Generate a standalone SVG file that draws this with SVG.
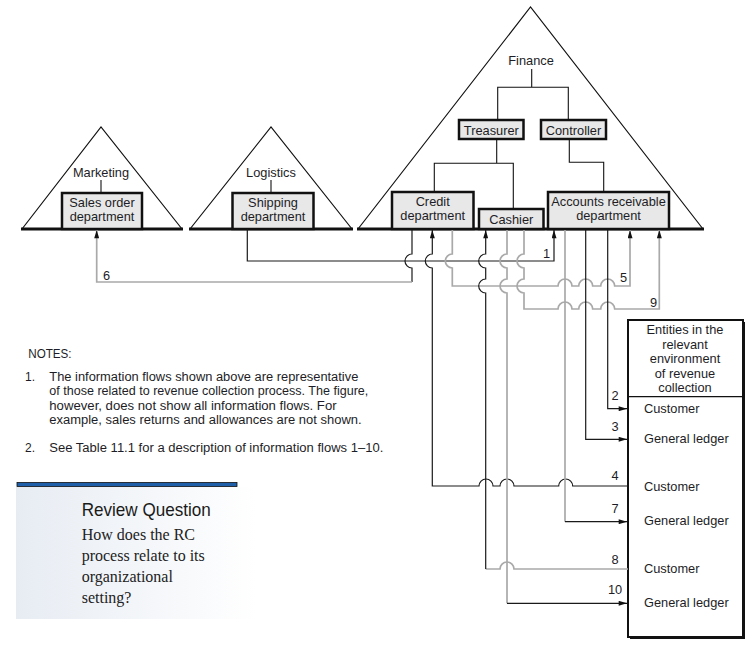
<svg xmlns="http://www.w3.org/2000/svg" width="755" height="648" viewBox="0 0 755 648">
<defs>
<style>
text{font-family:"Liberation Sans",Arial,sans-serif;font-size:12.8px;fill:#1d1d26}
.c{text-anchor:middle}
.box{fill:#e8e8e8;stroke:#111;stroke-width:2.5}
.tri{fill:none;stroke:#111;stroke-width:1.2}
.base{stroke:#111;stroke-width:3.2}
.org{fill:none;stroke:#111;stroke-width:1.1}
.k{fill:none;stroke:#1a1a1a;stroke-width:1.2}
.g{fill:none;stroke:#a9a9a9;stroke-width:1.7}
.note{font-size:12px}
.rq{font-size:18.5px;fill:#1a1a1a}
.serif{font-family:"Liberation Serif","Times New Roman",serif;font-size:16px;fill:#222}
</style>
<marker id="ar" viewBox="0 0 10 6" refX="10" refY="3" markerWidth="10" markerHeight="5" markerUnits="userSpaceOnUse" orient="auto">
<path d="M0,0 L10,3 L0,6 z" fill="#111"/>
</marker>
<linearGradient id="rqg" x1="0" y1="0" x2="1" y2="0">
<stop offset="0" stop-color="#e7ecf3"/>
<stop offset="1" stop-color="#ffffff"/>
</linearGradient>
</defs>
<rect width="755" height="648" fill="#fff"/>

<g id="marketing">
<polyline class="tri" points="22,229 101,127 182,229"/>
<line class="base" x1="21" y1="229" x2="183" y2="229"/>
<text class="c" x="101" y="177">Marketing</text>
<line class="org" x1="101" y1="180" x2="101" y2="193"/>
<rect class="box" x="62" y="193" width="80" height="36"/>
<text class="c" x="102" y="207">Sales order</text>
<text class="c" x="102" y="221">department</text>
</g>

<g id="logistics">
<polyline class="tri" points="190,229 271,127 352,229"/>
<line class="base" x1="189" y1="229" x2="353" y2="229"/>
<text class="c" x="271" y="177">Logistics</text>
<line class="org" x1="271" y1="180" x2="271" y2="193"/>
<rect class="box" x="232.5" y="193" width="81" height="36"/>
<text class="c" x="273" y="207">Shipping</text>
<text class="c" x="273" y="221">department</text>
</g>

<g id="finance">
<polyline class="tri" points="358,229 530.5,7 703,229"/>
<line class="base" x1="357" y1="229" x2="704" y2="229"/>
<text class="c" x="531" y="65">Finance</text>
<path class="org" d="M531.7,69 V87.3 M497.7,120 V87.3 H568.3 V120 M496.7,139 V163.3 M434.3,192 V163.3 H513.3 V209 M569.3,139 V162.3 H603.7 V192"/>
</g>
<g id="treasurer">
<rect class="box" x="459" y="120" width="64.5" height="19"/>
<text class="c" x="491.3" y="134.5">Treasurer</text>
</g>
<g id="controller">
<rect class="box" x="541" y="120" width="65" height="19"/>
<text class="c" x="573.5" y="134.5">Controller</text>
</g>
<g id="credit">
<rect class="box" x="392" y="192" width="81.5" height="37"/>
<text class="c" x="432.7" y="206">Credit</text>
<text class="c" x="432.7" y="219.5">department</text>
</g>
<g id="cashier">
<rect class="box" x="479" y="209" width="64.5" height="20"/>
<text class="c" x="511.3" y="224">Cashier</text>
</g>
<g id="ar-dept">
<rect class="box" x="548" y="192" width="121" height="37"/>
<text class="c" x="608.5" y="206">Accounts receivable</text>
<text class="c" x="608.5" y="219.5">department</text>
</g>

<g id="entities">
<rect x="630" y="322" width="115" height="317" fill="#111"/>
<rect x="628" y="320" width="115" height="317" fill="#fff" stroke="#111" stroke-width="2"/>
<line x1="628" y1="396.7" x2="743" y2="396.7" stroke="#111" stroke-width="1.3"/>
<text class="c" x="685" y="334">Entities in the</text>
<text class="c" x="685" y="348.5">relevant</text>
<text class="c" x="685" y="363">environment</text>
<text class="c" x="685" y="377.5">of revenue</text>
<text class="c" x="685" y="392">collection</text>
<text x="644" y="413">Customer</text>
<text x="644" y="443">General ledger</text>
<text x="644" y="490.5">Customer</text>
<text x="644" y="525">General ledger</text>
<text x="644" y="573">Customer</text>
<text x="644" y="607">General ledger</text>
</g>

<g id="connectors">
<path class="k" d="M247.3,229 V261 H554 V230" marker-end="url(#ar)"/>
<path class="k" d="M412,230 V254 A7,7 0 0 0 412,268 V282"/>
<path class="g" d="M412,282 H96.7 V230" marker-end="url(#ar)"/>
<path class="k" d="M628,486 H572.7 A7,7 0 0 0 558.7,486 H514 A7,7 0 0 0 500,486 H493 A7,7 0 0 0 479,486 H432.3 V268 A7,7 0 0 1 432.3,254 V230" marker-end="url(#ar)"/>
<path class="g" d="M452.3,230 V254 A7,7 0 0 0 452.3,268 V286 H558 A7,7 0 0 1 572,286 H578.7 A7,7 0 0 1 592.7,286 H600.7 A7,7 0 0 1 614.7,286 H630 V230" marker-end="url(#ar)"/>
<path class="g" d="M628,569 H514 A7,7 0 0 0 500,569 H485.7"/>
<path class="k" d="M485.7,569 V293 A7,7 0 0 1 485.7,279 V268 A7,7 0 0 1 485.7,254 V230" marker-end="url(#ar)"/>
<path class="g" d="M507,230 V254 A7,7 0 0 0 507,268 V279 A7,7 0 0 0 507,293 V603.3"/>
<path class="k" d="M507,603.3 H627" marker-end="url(#ar)"/>
<path class="g" d="M524,230 V254 A7,7 0 0 0 524,268 V279 A7,7 0 0 0 524,293 V309 H558 A7,7 0 0 1 572,309 H578.7 A7,7 0 0 1 592.7,309 H600.7 A7,7 0 0 1 614.7,309 H659.3 V230" marker-end="url(#ar)"/>
<path class="g" d="M565,230 V521.7"/>
<path class="k" d="M565,521.7 H627" marker-end="url(#ar)"/>
<path class="k" d="M585.7,230 V439.3 H627" marker-end="url(#ar)"/>
<path class="k" d="M607.7,230 V408.7 H627" marker-end="url(#ar)"/>
<text x="543" y="257.5">1</text>
<text x="103" y="280">6</text>
<text x="620" y="282">5</text>
<text x="650" y="307">9</text>
<text x="611.5" y="400">2</text>
<text x="611.5" y="431">3</text>
<text x="611.5" y="480">4</text>
<text x="611.5" y="513">7</text>
<text x="611.5" y="563.5">8</text>
<text x="608" y="594">10</text>
</g>

<g id="notes">
<text class="note" x="28.3" y="357.5" textLength="43.3" lengthAdjust="spacingAndGlyphs">NOTES:</text>
<text class="note" x="25" y="380.5">1.</text>
<text class="note" x="49.3" y="380.5" textLength="309" lengthAdjust="spacingAndGlyphs">The information flows shown above are representative</text>
<text class="note" x="49.3" y="395" textLength="319" lengthAdjust="spacingAndGlyphs">of those related to revenue collection process. The figure,</text>
<text class="note" x="49.3" y="409.5" textLength="287.3" lengthAdjust="spacingAndGlyphs">however, does not show all information flows.  For</text>
<text class="note" x="49.3" y="424" textLength="312.3" lengthAdjust="spacingAndGlyphs">example, sales returns and allowances are not shown.</text>
<text class="note" x="25" y="451.5">2.</text>
<text class="note" x="49.3" y="451.5" textLength="334" lengthAdjust="spacingAndGlyphs">See Table 11.1 for a description of information flows 1–10.</text>
</g>

<g id="review">
<rect x="16" y="487" width="240" height="132" fill="url(#rqg)"/>
<rect x="17" y="482.5" width="220" height="4" fill="#1f5ea8" stroke="#111" stroke-width="0.8"/>
<text class="rq" x="81.7" y="516" textLength="129" lengthAdjust="spacingAndGlyphs">Review Question</text>
<text class="serif" x="81.7" y="539.5">How does the RC</text>
<text class="serif" x="81.7" y="560.5">process relate to its</text>
<text class="serif" x="81.7" y="581.5">organizational</text>
<text class="serif" x="81.7" y="602.5">setting?</text>
</g>
</svg>
